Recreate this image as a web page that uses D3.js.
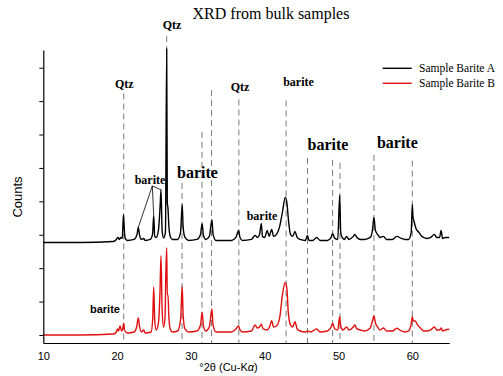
<!DOCTYPE html>
<html><head><meta charset="utf-8">
<script src="https://cdn.jsdelivr.net/npm/d3@7"></script>
<style>body{margin:0;background:#fff}svg{display:block}</style>
</head><body>
<svg id="chart" width="503" height="376"></svg>
<script>
// ---------- data ----------
const chartTitle = "XRD from bulk samples";
const seriesNames = ["Sample Barite A", "Sample Barite B"];
const xTickValues = [10, 20, 30, 40, 50, 60];
const yTickValues = [0, 1000, 2000, 3000, 4000, 5000, 6000, 7000, 8000];
const offsetA = 2770; // vertical stacking offset of sample A (counts)

// [2theta, counts]
const sampleA = [[10,0],[15,0],[19.5,30],[19.9,90],[20.1,150],[20.3,90],[20.5,150],[20.7,120],[20.86,840],[21.0,300],[21.1,120],[21.4,60],[22.3,90],[22.7,240],[22.87,450],[23.05,210],[23.3,90],[23.6,120],[23.8,60],[24.5,90],[24.8,240],[24.96,810],[25.1,180],[25.3,150],[25.6,360],[25.82,1050],[25.95,1575],[26.1,360],[26.3,135],[26.55,300],[26.72,5790],[26.8,1200],[26.9,1005],[27.0,540],[27.2,180],[27.5,90],[28.2,90],[28.6,300],[28.82,1140],[28.95,450],[29.2,150],[29.7,60],[30.8,90],[31.3,240],[31.52,560],[31.7,210],[32.0,90],[32.5,180],[32.85,680],[33.0,240],[33.4,60],[35.5,60],[36.1,150],[36.47,360],[36.65,150],[37.0,60],[38.2,90],[38.7,210],[39.0,150],[39.3,240],[39.54,570],[39.7,180],[40.0,150],[40.35,360],[40.6,180],[40.95,390],[41.2,180],[41.6,240],[42.0,450],[42.4,900],[42.79,1350],[43.0,1200],[43.25,600],[43.5,240],[43.8,180],[44.1,330],[44.4,150],[44.8,90],[45.5,60],[45.8,210],[46.0,60],[46.5,60],[47.05,150],[47.5,60],[48.5,60],[49.0,150],[49.2,270],[49.5,120],[49.9,90],[50.16,1410],[50.3,300],[50.5,150],[50.8,90],[51.1,180],[51.4,90],[52.0,180],[52.2,240],[52.5,150],[53.0,90],[53.5,90],[54.3,150],[54.6,360],[54.8,750],[55.0,360],[55.3,240],[55.6,150],[56.1,180],[56.5,90],[57.3,90],[57.9,180],[58.5,120],[59.0,90],[59.5,90],[59.85,300],[60.0,1140],[60.1,750],[60.2,660],[60.5,420],[60.9,300],[61.3,180],[62.0,120],[62.5,150],[63.0,240],[63.3,150],[63.7,150],[63.9,360],[64.1,120],[64.5,150],[65,150]];

const sampleB = [[10,0],[15,0],[19.5,30],[19.9,90],[20.05,180],[20.2,120],[20.4,270],[20.6,120],[20.75,180],[20.9,350],[21.0,150],[21.4,60],[22.3,90],[22.65,240],[22.87,510],[23.05,240],[23.3,90],[23.6,150],[23.8,60],[24.6,90],[24.82,450],[24.96,1430],[25.1,450],[25.3,150],[25.6,360],[25.8,1200],[25.95,2370],[26.1,750],[26.3,240],[26.5,540],[26.6,1800],[26.72,2610],[26.8,1200],[26.9,1200],[27.0,600],[27.2,180],[27.5,90],[28.2,120],[28.6,450],[28.82,1450],[28.95,600],[29.2,180],[29.7,90],[30.8,120],[31.3,300],[31.52,680],[31.7,270],[32.0,120],[32.5,240],[32.85,780],[33.0,300],[33.4,90],[35.5,90],[36.1,180],[36.47,270],[36.65,150],[37.0,90],[38.2,120],[38.7,300],[39.0,210],[39.3,240],[39.54,320],[39.8,180],[40.35,150],[40.7,270],[40.94,430],[41.2,240],[41.6,270],[42.05,540],[42.4,1200],[42.79,1570],[43.0,1400],[43.2,660],[43.5,300],[43.8,240],[44.1,400],[44.4,180],[44.8,120],[45.5,90],[45.8,120],[46.2,90],[47.05,180],[47.5,90],[48.5,120],[49.0,240],[49.2,350],[49.5,180],[49.9,150],[50.16,550],[50.3,270],[50.6,150],[51.1,240],[51.4,150],[52.0,240],[52.2,300],[52.5,180],[53.0,150],[53.5,120],[54.3,210],[54.6,420],[54.8,570],[55.0,360],[55.3,240],[55.6,150],[56.1,210],[56.5,120],[57.3,120],[57.9,200],[58.5,120],[59.0,90],[59.5,120],[59.85,330],[60.0,550],[60.15,420],[60.4,420],[60.7,300],[61.1,210],[61.5,120],[62.0,120],[62.5,150],[63.0,240],[63.3,150],[63.7,150],[63.9,210],[64.1,120],[64.5,150],[65,170]];

// reference (dashed) lines: [2theta, top counts, bottom counts]
const refLines = [[20.9,7230,-240],[26.72,8950,8560],[28.8,4550,-240],[31.5,6080,-240],[32.8,7330,-240],[36.5,7050,-240],[42.9,7020,-240],[45.8,5300,-240],[49.2,5240,-240],[50.2,5150,-240],[54.8,5390,-240],[60.0,5220,-240]];

// phase annotations: [text, 2theta, counts, style]
const annotations = [
  ["Qtz", 20.97, 7395, "m"],
  ["Qtz", 27.44, 9150, "m"],
  ["Qtz", 36.65, 7305, "m"],
  ["barite", 44.58, 7455, "m"],
  ["barite", 24.46, 4520, "m"],
  ["barite", 39.63, 3440, "m"],
  ["barite", 30.9, 4690, "l"],
  ["barite", 48.58, 5540, "l"],
  ["barite", 57.97, 5585, "l"],
  ["barite", 18.36, 660, "s"]
];
// leader lines from the small barite label to peaks of sample A
const leaderOrigin = [24.77, 4460];
const leaderTargets = [22.87, 24.96, 25.95];

// ---------- drawing ----------
const svg = d3.select("#chart");
const x = d3.scaleLinear().domain([10, 65]).range([43.3, 449.2]);
const y = d3.scaleLinear().domain([-240, 8530]).range([343, 50]);
const serif = "'Liberation Serif','Times New Roman',serif";
const sans = "'Liberation Sans',Arial,sans-serif";

// dashed reference lines
svg.append("g").selectAll("line").data(refLines).join("line")
  .attr("x1", d => x(d[0])).attr("x2", d => x(d[0]))
  .attr("y1", d => y(d[1])).attr("y2", d => y(d[2]))
  .attr("stroke", "#7a7a7a").attr("stroke-width", 1)
  .attr("stroke-dasharray", "6,4");

// curves
const line = d3.line().x(d => x(d[0])).y(d => y(d[1])).curve(d3.curveMonotoneX);
svg.append("path").datum(sampleB).attr("d", line)
  .attr("fill", "none").attr("stroke", "#e01010").attr("stroke-width", 1.4);
svg.append("path").datum(sampleA.map(d => [d[0], d[1] + offsetA])).attr("d", line)
  .attr("fill", "none").attr("stroke", "#000").attr("stroke-width", 1.4);

// axes
const xAxis = svg.append("g").attr("transform", `translate(0,${y(-240)})`)
  .call(d3.axisBottom(x).tickValues(xTickValues).tickSize(0).tickPadding(9));
xAxis.select(".domain").attr("stroke", "#000").attr("stroke-width", 1.2);
xAxis.selectAll("text").attr("font-family", sans).attr("font-size", 11).attr("fill", "#000");

const yAxis = svg.append("g").attr("transform", `translate(${x(10)},0)`)
  .call(d3.axisLeft(y).tickValues(yTickValues).tickSize(4).tickSizeOuter(0).tickFormat(""));
yAxis.select(".domain").attr("stroke", "#000").attr("stroke-width", 1.2);
yAxis.selectAll(".tick line").attr("stroke", "#000");

// axis titles
svg.append("text").attr("transform", "translate(17,197) rotate(-90)")
  .attr("text-anchor", "middle").attr("dy", "0.35em")
  .attr("font-family", sans).attr("font-size", 13).text("Counts");
const xl = svg.append("text").attr("x", 228.5).attr("y", 371).attr("text-anchor", "middle")
  .attr("font-family", sans).attr("font-size", 11);
xl.append("tspan").text("°2θ (Cu-K");
xl.append("tspan").attr("font-style", "italic").text("α");
xl.append("tspan").text(")");

// title
svg.append("text").attr("x", 271).attr("y", 19).attr("text-anchor", "middle")
  .attr("font-family", serif).attr("font-size", 16).text(chartTitle);

// annotations
const annStyle = {
  m: {f: serif, s: 12, w: "bold"},
  l: {f: serif, s: 16, w: "bold"},
  s: {f: sans, s: 11, w: "bold"}
};
svg.append("g").selectAll("text").data(annotations).join("text")
  .attr("x", d => x(d[1])).attr("y", d => y(d[2])).attr("text-anchor", "middle")
  .attr("font-family", d => annStyle[d[3]].f).attr("font-size", d => annStyle[d[3]].s)
  .attr("font-weight", d => annStyle[d[3]].w).text(d => d[0]);

// leader lines
const peakValue = t => sampleA.find(p => p[0] === t)[1] + offsetA;
svg.append("g").selectAll("line").data(leaderTargets).join("line")
  .attr("x1", x(leaderOrigin[0])).attr("y1", y(leaderOrigin[1]))
  .attr("x2", d => x(d)).attr("y2", d => y(peakValue(d)))
  .attr("stroke", "#000").attr("stroke-width", 0.8);

// legend
const lg = svg.append("g");
[["#000", 68.3], ["#e01010", 83.3]].forEach((c, i) => {
  lg.append("line").attr("x1", 382.7).attr("x2", 411.7).attr("y1", c[1]).attr("y2", c[1])
    .attr("stroke", c[0]).attr("stroke-width", 1.4);
  lg.append("text").attr("x", 419).attr("y", c[1] + 4).attr("font-family", serif)
    .attr("font-size", 11.5).text(seriesNames[i]);
});
</script>
</body></html>
